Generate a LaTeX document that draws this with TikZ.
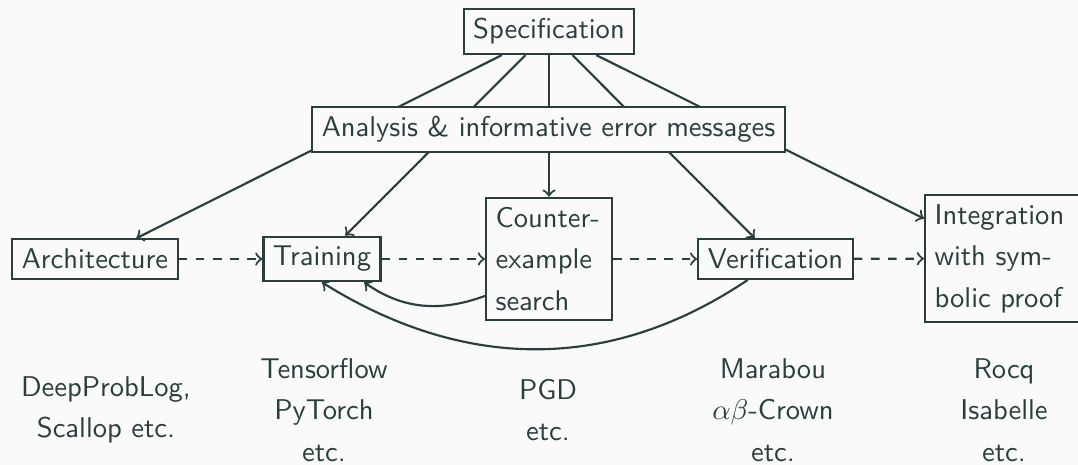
\documentclass[tikz,border=0pt]{standalone}
\usepackage{fontspec}
\definecolor{ink}{RGB}{43,62,62}
\definecolor{paper}{RGB}{250,250,250}
\begin{document}
\begin{tikzpicture}[x=0.35pt,y=0.35pt,
  every node/.style={font=\sffamily\fontsize{10}{14.5}\selectfont, text=ink},
  box/.style={draw=ink, line width=0.75pt, fill=paper},
  link/.style={draw=ink, line width=0.75pt, ->},
  flow/.style={link, dashed},
  lab/.style={align=center}]
  % canvas
  \path[use as bounding box, fill=paper] (0,0) rectangle (1078,-465);

  % pipeline stages
  \node[box] (spec) at (549,-31.5) {Specification};
  \node[box] (arch) at (95,-259) {Architecture};
  \node[box] (train) at (322,-259) {Training};
  \node[box, text width=37.4pt, align=left] (cex) at (549,-259) {Counter-\\example\\search};
  \node[box] (verif) at (775.5,-259) {Verification};
  \node[box, text width=48.6pt, align=left] (integ) at (1004,-258.5) {Integration\\with sym-\\bolic proof};

  % the specification feeds every stage
  \foreach \t in {arch,train,cex,verif,integ}
    \draw[link] (spec) -- (\t);

  % analysis layer sits over the specification links
  \node[box] (ana) at (548.5,-129.5) {Analysis \& informative error messages};

  % main flow
  \draw[flow] (arch) -- (train);
  \draw[flow] (train) -- (cex);
  \draw[flow] (cex) -- (verif);
  \draw[flow] (verif) -- (integ);

  % feedback loops
  \draw[link] (cex.210) to[out=200,in=-35] (train.-29);
  \draw[link] (verif.217) to[out=214,in=-32] (train.south);

  % tools
  \node[lab] (t1) at (106,-410) {DeepProbLog,\\Scallop etc.};
  \node[lab] (t2) at (324,-410) {Tensorflow\\PyTorch\\etc.};
  \node[lab] (t3) at (548,-410) {PGD\\etc.};
  \node[lab] (t4) at (773,-410) {Marabou\\$\alpha\beta$-Crown\\etc.};
  \node[lab] (t5) at (1004,-410) {Rocq\\Isabelle\\etc.};
\end{tikzpicture}
\end{document}
